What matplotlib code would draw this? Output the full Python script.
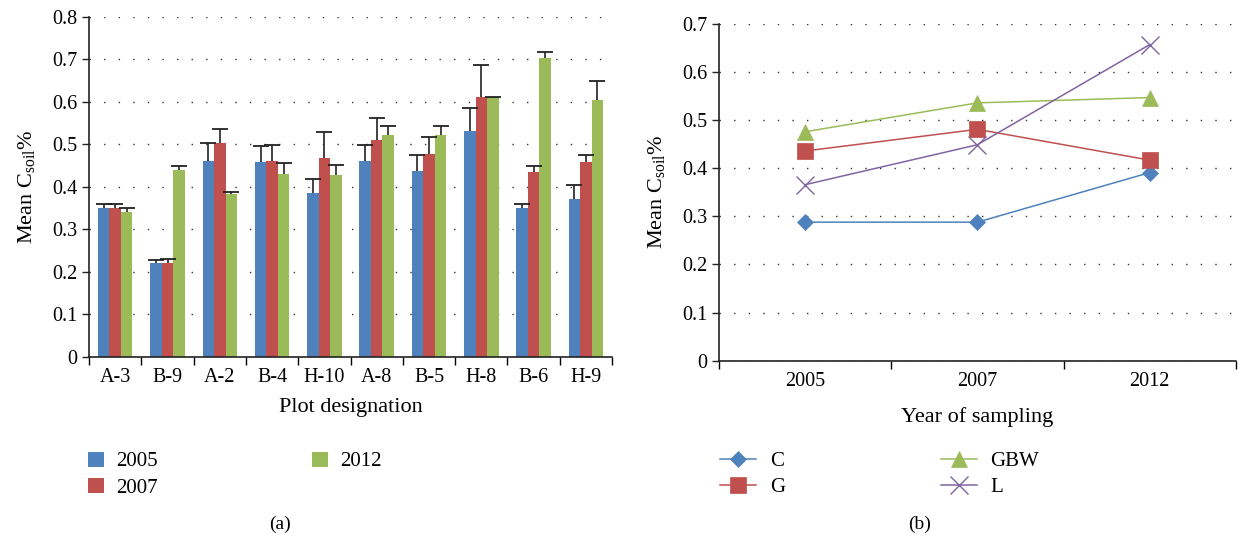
import matplotlib
matplotlib.use("Agg")
import matplotlib.pyplot as plt
import numpy as np

plt.rcParams["font.family"] = ["Liberation Serif", "DejaVu Serif"]
plt.rcParams["mathtext.fontset"] = "custom"
plt.rcParams["mathtext.rm"] = "Liberation Serif"
plt.rcParams["mathtext.it"] = "Liberation Serif"

# panel (a): mean soil carbon by plot and year
plots = ["A-3", "B-9", "A-2", "B-4", "H-10", "A-8", "B-5", "H-8", "B-6", "H-9"]
years = ["2005", "2007", "2012"]
mean_2005 = [0.349, 0.220, 0.460, 0.457, 0.385, 0.460, 0.438, 0.530, 0.351, 0.370]
mean_2007 = [0.349, 0.220, 0.502, 0.460, 0.467, 0.509, 0.476, 0.610, 0.435, 0.457]
mean_2012 = [0.340, 0.439, 0.383, 0.431, 0.427, 0.522, 0.522, 0.610, 0.703, 0.605]
top_2005 = [0.359, 0.227, 0.502, 0.496, 0.417, 0.499, 0.475, 0.585, 0.360, 0.405]
top_2007 = [0.359, 0.229, 0.535, 0.499, 0.528, 0.562, 0.516, 0.686, 0.449, 0.474]
top_2012 = [0.351, 0.449, 0.388, 0.455, 0.452, 0.544, 0.544, 0.612, 0.718, 0.649]

# panel (b): mean soil carbon by land use over time
land_uses = ["C", "G", "GBW", "L"]
c_vals = [0.288, 0.288, 0.391]
g_vals = [0.436, 0.481, 0.417]
gbw_vals = [0.476, 0.536, 0.547]
l_vals = [0.366, 0.449, 0.657]

colors = ["#4F81BD", "#C0504D", "#9BBB59", "#8064A2"]
grid_style = dict(color="#333333", linestyle=(0, (1, 9.5)), linewidth=1.0)
ylabel = r"Mean C$_{\rm soil}$%"
tick_size = 14.5
label_size = 16


def style_axes(ax):
    ax.spines["top"].set_visible(False)
    ax.spines["right"].set_visible(False)
    for side in ("left", "bottom"):
        ax.spines[side].set_linewidth(1.2)
        ax.spines[side].set_color("#222222")
    ax.tick_params(axis="both", direction="out", length=5, width=1.0,
                   colors="#222222", labelsize=tick_size, labelcolor="black")
    ax.tick_params(axis="x", which="major", length=0, pad=8)
    ax.tick_params(axis="x", which="minor", length=6, width=1.0, direction="out")
    ax.yaxis.grid(True, **grid_style)
    ax.set_axisbelow(True)


fig = plt.figure(figsize=(12.42, 5.39), dpi=100)

# ---- (a) bars ----
ax1 = fig.add_axes([0.0717, 0.3382, 0.4211, 0.6308])
x = np.arange(len(plots))
width = 0.22
means = [mean_2005, mean_2007, mean_2012]
tops = [top_2005, top_2007, top_2012]
for i, (m, t) in enumerate(zip(means, tops)):
    xpos = x + (i - 1) * width
    ax1.bar(xpos, m, width, color=colors[i], label=years[i], zorder=2)
    # one-sided error bars: stem from bar top, cap only at the upper end
    ax1.vlines(xpos, m, t, color="#222222", linewidth=1.2, zorder=3)
    ax1.plot(xpos, t, linestyle="none", marker="_", markersize=11,
             markeredgewidth=1.3, color="#222222", zorder=3)
ax1.set_xlim(-0.5, len(plots) - 0.5)
ax1.set_ylim(0, 0.8)
ax1.set_yticks(np.arange(0, 0.81, 0.1))
ax1.set_yticklabels(["0"] + [f"{v:.1f}" for v in np.arange(0.1, 0.81, 0.1)])
ax1.set_xticks(x)
ax1.set_xticklabels(plots)
ax1.set_xticks(np.arange(-0.5, len(plots)), minor=True)
style_axes(ax1)
ax1.set_xlabel("Plot designation", fontsize=label_size, labelpad=8)
ax1.set_ylabel(ylabel, fontsize=label_size, labelpad=11)

h, l = ax1.get_legend_handles_labels()
fig.legend(h, l, ncol=2, loc="upper left", bbox_to_anchor=(0.056, 0.197),
           frameon=False, fontsize=15, handlelength=0.75, handleheight=0.75,
           handletextpad=0.6, columnspacing=7.4, labelspacing=0.3)

# ---- (b) lines ----
ax2 = fig.add_axes([0.5791, 0.3308, 0.4158, 0.6247])
xs = np.arange(len(years))
series = [c_vals, g_vals, gbw_vals, l_vals]
markers = ["D", "s", "^", "x"]
msizes = [8.5, 12, 12, 13]
for vals, name, col, mk, ms in zip(series, land_uses, colors, markers, msizes):
    ax2.plot(xs, vals, color=col, marker=mk, markersize=ms, linewidth=1.1,
             markeredgewidth=1.0 if mk == "x" else 0.5, label=name)
ax2.set_xlim(-0.5, len(years) - 0.5)
ax2.set_ylim(0, 0.7)
ax2.set_yticks(np.arange(0, 0.71, 0.1))
ax2.set_yticklabels(["0"] + [f"{v:.1f}" for v in np.arange(0.1, 0.71, 0.1)])
ax2.set_xticks(xs)
ax2.set_xticklabels(years)
ax2.set_xticks(np.arange(-0.5, len(years)), minor=True)
style_axes(ax2)
ax2.set_xlabel("Year of sampling", fontsize=label_size, labelpad=12)
ax2.set_ylabel(ylabel, fontsize=label_size, labelpad=11)

h, l = ax2.get_legend_handles_labels()
fig.legend(h, l, ncol=2, loc="upper left", bbox_to_anchor=(0.565, 0.197),
           frameon=False, fontsize=15, handlelength=1.7,
           handletextpad=0.67, columnspacing=7.5, labelspacing=0.3)

fig.text(0.2255, 0.012, "(a)", ha="center", va="bottom", fontsize=14)
fig.text(0.7405, 0.012, "(b)", ha="center", va="bottom", fontsize=14)

fig.savefig("out.png", dpi=100)
